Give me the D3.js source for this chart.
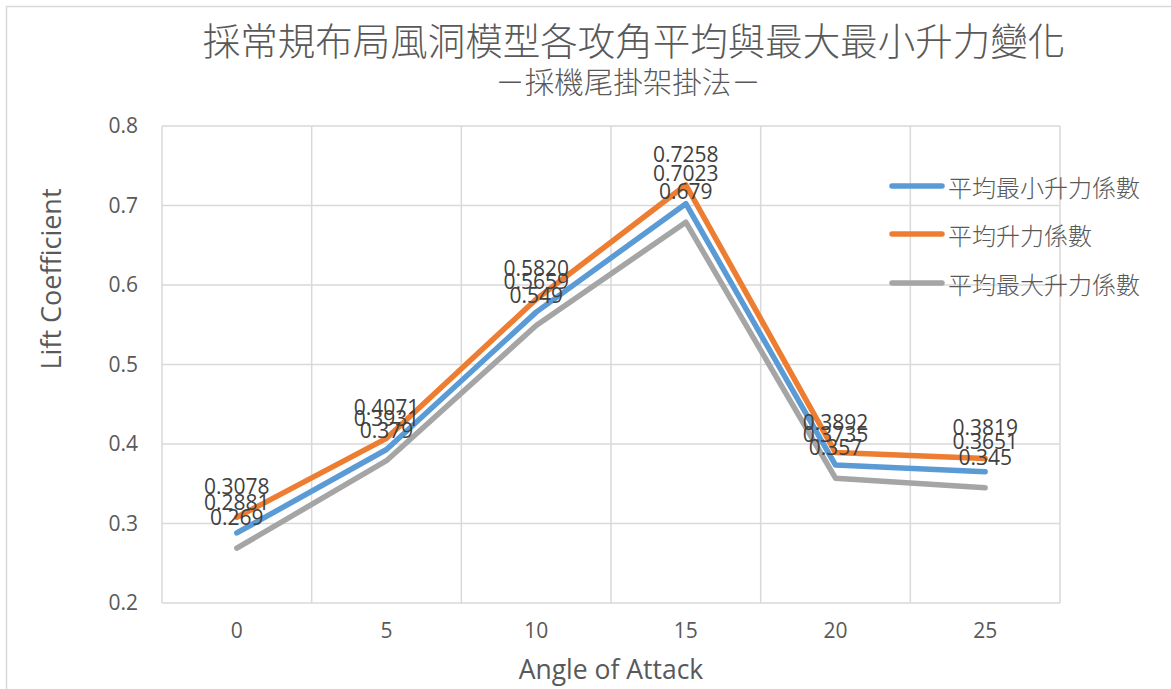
<!DOCTYPE html>
<html>
<head>
<meta charset="utf-8">
<script src="https://cdn.jsdelivr.net/npm/d3@7"></script>
<style>
  html, body { margin: 0; padding: 0; background: #fff; }
  svg { display: block; }
</style>
</head>
<body>
<svg id="chart" width="1171" height="689"></svg>
<script>
const categories = ["0", "5", "10", "15", "20", "25"];
const seriesNames = ["平均最小升力係數", "平均升力係數", "平均最大升力係數"];
const avgMinLift = [0.2881, 0.3931, 0.5659, 0.7023, 0.3735, 0.3651];
const avgLift = [0.3078, 0.4071, 0.5820, 0.7258, 0.3892, 0.3819];
const avgMaxLift = [0.269, 0.379, 0.549, 0.679, 0.357, 0.345];
const labelTexts = [
  ["0.2881", "0.3931", "0.5659", "0.7023", "0.3735", "0.3651"],
  ["0.3078", "0.4071", "0.5820", "0.7258", "0.3892", "0.3819"],
  ["0.269", "0.379", "0.549", "0.679", "0.357", "0.345"]
];
const yTicks = [0.2, 0.3, 0.4, 0.5, 0.6, 0.7, 0.8];
const colors = ["#5B9BD5", "#ED7D31", "#A5A5A5"];
const titleText = "採常規布局風洞模型各攻角平均與最大最小升力變化";
const subtitleText = "－採機尾掛架掛法－";
const xTitle = "Angle of Attack";
const yTitle = "Lift Coefficient";

(function () {
const series = [avgMinLift, avgLift, avgMaxLift];
const svg = d3.select("#chart");
const latin = "'Open Sans', 'Noto Sans', sans-serif";
const cjk = "'Noto Sans CJK TC', 'Noto Sans CJK SC', sans-serif";
const textColor = "#595959";
const gridColor = "#d9d9d9";

// outer chart border
svg.append("rect").attr("x", 6.5).attr("y", 6.5).attr("width", 1200).attr("height", 720)
  .attr("fill", "#fff").attr("stroke", gridColor).attr("stroke-width", 1.5);

const pL = 162, pR = 1060, pT = 126, pB = 603;
const x = d3.scaleBand().domain(categories).range([pL, pR]);
const y = d3.scaleLinear().domain([0.2, 0.8]).range([pB, pT]);

// horizontal gridlines
svg.append("g").selectAll("line").data(yTicks).join("line")
  .attr("x1", pL).attr("x2", pR)
  .attr("y1", d => y(d)).attr("y2", d => y(d))
  .attr("stroke", gridColor).attr("stroke-width", 1.5);

// vertical gridlines at category boundaries
const bounds = categories.map(c => x(c)).concat([x(categories[categories.length - 1]) + x.bandwidth()]);
svg.append("g").selectAll("line").data(bounds).join("line")
  .attr("x1", d => d).attr("x2", d => d)
  .attr("y1", pT).attr("y2", pB)
  .attr("stroke", gridColor).attr("stroke-width", 1.5);

// y axis labels
const yAxis = d3.axisLeft(y).tickValues(yTicks).tickFormat(d3.format(".1f")).tickSize(0).tickPadding(24);
const gy = svg.append("g").attr("transform", `translate(${pL},0)`).call(yAxis);
gy.select(".domain").remove();
gy.selectAll("text").attr("fill", textColor).attr("font-family", latin).attr("font-size", 21);

// x axis labels
const xAxis = d3.axisBottom(x).tickSize(0).tickPadding(20);
const gx = svg.append("g").attr("transform", `translate(0,${pB})`).call(xAxis);
gx.select(".domain").remove();
gx.selectAll("text").attr("fill", textColor).attr("font-family", latin).attr("font-size", 21);

// lines
const line = d3.line().x((d, i) => x(categories[i]) + x.bandwidth() / 2).y(d => y(d));
series.forEach((vals, s) => {
  svg.append("path").datum(vals).attr("d", line)
    .attr("fill", "none").attr("stroke", colors[s]).attr("stroke-width", 5.5)
    .attr("stroke-linejoin", "round").attr("stroke-linecap", "round");
});

// data labels
series.forEach((vals, s) => {
  svg.append("g").selectAll("text").data(vals).join("text")
    .attr("x", (d, i) => x(categories[i]) + x.bandwidth() / 2)
    .attr("y", d => y(d) - 31)
    .attr("text-anchor", "middle").attr("dominant-baseline", "central")
    .attr("fill", "#404040").attr("font-family", latin).attr("font-size", 21)
    .text((d, i) => labelTexts[s][i]);
});

// titles
svg.append("text").attr("x", 634).attr("y", 38).attr("text-anchor", "middle")
  .attr("dominant-baseline", "central").attr("fill", textColor)
  .attr("font-family", cjk).attr("font-weight", 300).attr("font-size", 37.5).text(titleText);
svg.append("text").attr("x", 628).attr("y", 80).attr("text-anchor", "middle")
  .attr("dominant-baseline", "central").attr("fill", textColor)
  .attr("font-family", cjk).attr("font-weight", 300).attr("font-size", 29.5).text(subtitleText);

// axis titles
svg.append("text").attr("x", 611).attr("y", 669).attr("text-anchor", "middle")
  .attr("dominant-baseline", "central").attr("fill", textColor)
  .attr("font-family", latin).attr("font-size", 26.5).text(xTitle);
svg.append("text").attr("transform", "translate(50,279) rotate(-90)")
  .attr("text-anchor", "middle").attr("dominant-baseline", "central").attr("fill", textColor)
  .attr("font-family", latin).attr("font-size", 27).text(yTitle);

// legend
const legendY = [186, 234, 283];
seriesNames.forEach((name, s) => {
  const g = svg.append("g");
  g.append("line").attr("x1", 892).attr("x2", 942).attr("y1", legendY[s]).attr("y2", legendY[s])
    .attr("stroke", colors[s]).attr("stroke-width", 5.5).attr("stroke-linecap", "round");
  g.append("text").attr("x", 948).attr("y", legendY[s]).attr("dominant-baseline", "central")
    .attr("fill", textColor).attr("font-family", cjk).attr("font-weight", 300).attr("font-size", 24).text(name);
});
})();
</script>
</body>
</html>
